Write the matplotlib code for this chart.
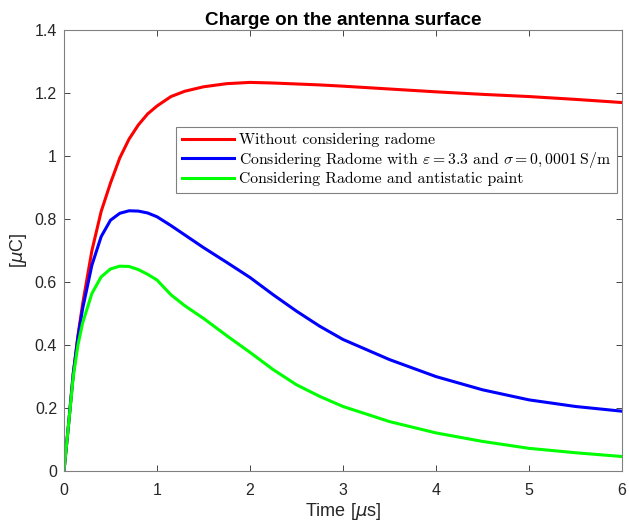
import numpy as np
import matplotlib.pyplot as plt

# values (time in us, charge in uC)
t = [0, 0.05, 0.1, 0.15, 0.2, 0.3, 0.4, 0.5, 0.6, 0.7, 0.8, 0.9, 1.0, 1.15, 1.3,
     1.5, 1.75, 2.0, 2.25, 2.5, 2.75, 3.0, 3.5, 4.0, 4.5, 5.0, 5.5, 6.0]
q_no_radome = [0, 0.15, 0.31, 0.43, 0.53, 0.7, 0.825, 0.915, 0.995, 1.055, 1.1,
               1.135, 1.16, 1.19, 1.207, 1.221, 1.231, 1.235, 1.233, 1.23, 1.227,
               1.223, 1.214, 1.205, 1.197, 1.19, 1.181, 1.171]
q_radome = [0, 0.15, 0.31, 0.425, 0.515, 0.654, 0.745, 0.797, 0.819, 0.827, 0.826,
            0.82, 0.808, 0.78, 0.75, 0.71, 0.663, 0.615, 0.56, 0.508, 0.46, 0.418,
            0.354, 0.30, 0.258, 0.226, 0.205, 0.19]
q_paint = [0, 0.15, 0.3, 0.4, 0.47, 0.564, 0.617, 0.642, 0.651, 0.65, 0.64, 0.625,
           0.607, 0.56, 0.525, 0.485, 0.43, 0.377, 0.322, 0.274, 0.237, 0.205,
           0.157, 0.121, 0.094, 0.072, 0.058, 0.046]

labels = ['Without considering radome',
          r'Considering Radome with $\varepsilon = 3.3$ and $\sigma = 0,0001\;\mathrm{S/m}$',
          'Considering Radome and antistatic paint']

plt.rcParams['font.family'] = ['Liberation Sans', 'DejaVu Sans']

fig = plt.figure(figsize=(6.29, 5.31), dpi=100)
ax = fig.add_axes([0.1017, 0.113, 0.8873, 0.8296])

ax.plot(t, q_no_radome, color='#ff0000', lw=2.2, label=labels[0])
ax.plot(t, q_radome, color='#0000ff', lw=2.2, label=labels[1])
ax.plot(t, q_paint, color='#00ff00', lw=2.2, label=labels[2])

ax.set_xlim(0, 6)
ax.set_ylim(0, 1.4)
ax.set_xticks(range(0, 7))
ax.set_yticks(np.arange(0, 1.41, 0.2))
ax.set_yticklabels(['0', '0.2', '0.4', '0.6', '0.8', '1', '1.2', '1.4'])

ax.tick_params(direction='in', top=True, right=True, labelsize=11.5,
               colors='#262626', length=4, width=0.6)
ax.tick_params(axis='x', pad=9)
ax.tick_params(axis='y', pad=5)
for s in ax.spines.values():
    s.set_color('#808080')
    s.set_linewidth(0.8)

ax.set_title('Charge on the antenna surface', fontsize=13.6, fontweight='bold', pad=4)
ax.set_xlabel(r'Time [$\mu$s]', fontsize=13, color='#262626', labelpad=2)
ax.set_ylabel(r'[$\mu$C]', fontsize=13, color='#262626', labelpad=4)

leg = ax.legend(loc='upper left', bbox_to_anchor=(0.2007, 0.781),
                prop={'family': 'cmr10', 'size': 11.3, 'math_fontfamily': 'cm'},
                handlelength=3.3, handletextpad=0.3, borderpad=0.4,
                labelspacing=0.15, borderaxespad=0, fancybox=False,
                framealpha=1, edgecolor='#808080')
leg.get_frame().set_linewidth(0.8)

plt.savefig('out.png', dpi=100)
